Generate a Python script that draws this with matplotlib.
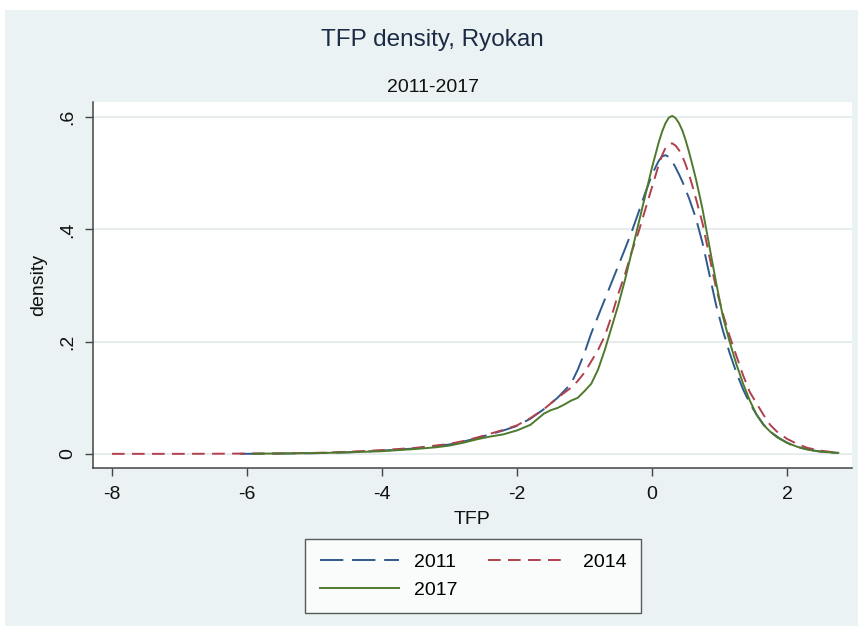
import matplotlib
matplotlib.use("Agg")
import matplotlib.pyplot as plt
from matplotlib.patches import Rectangle

# ---- data ----
x2011 = [-6.1, -5.5, -5.0, -4.5, -4.0, -3.5, -3.0, -2.8, -2.6, -2.4, -2.2, -2.0,
         -1.8, -1.6, -1.4, -1.2, -1.1, -1.0, -0.9, -0.8, -0.7, -0.6, -0.5, -0.4,
         -0.3, -0.2, -0.1, 0.0, 0.05, 0.1, 0.15, 0.2, 0.25, 0.3, 0.35, 0.4, 0.45,
         0.55, 0.65, 0.75, 0.85, 0.95, 1.05, 1.15, 1.25, 1.35, 1.45, 1.55, 1.65,
         1.75, 1.9, 2.05, 2.2, 2.4, 2.6, 2.76]
d2011 = [0.0003, 0.0008, 0.0015, 0.003, 0.006, 0.010, 0.017, 0.022, 0.028, 0.035, 0.042, 0.050,
         0.063, 0.080, 0.100, 0.125, 0.150, 0.180, 0.215, 0.245, 0.275, 0.305, 0.335, 0.365,
         0.396, 0.430, 0.465, 0.497, 0.510, 0.522, 0.530, 0.532, 0.529, 0.521, 0.510, 0.498, 0.485,
         0.455, 0.420, 0.375, 0.320, 0.265, 0.220, 0.180, 0.145, 0.115, 0.090, 0.070, 0.053,
         0.040, 0.027, 0.017, 0.011, 0.006, 0.003, 0.002]

x2014 = [-8.0, -7.0, -6.5, -6.0, -5.5, -5.0, -4.5, -4.0, -3.5, -3.0, -2.8, -2.6,
         -2.4, -2.2, -2.0, -1.8, -1.6, -1.4, -1.2, -1.1, -1.0, -0.9, -0.8, -0.7,
         -0.6, -0.5, -0.4, -0.3, -0.2, -0.1, 0.0, 0.1, 0.15, 0.2, 0.25, 0.3, 0.35,
         0.4, 0.45, 0.5, 0.55, 0.6, 0.65, 0.7, 0.75, 0.85, 0.95, 1.05, 1.15, 1.25,
         1.35, 1.45, 1.55, 1.65, 1.75, 1.85, 2.0, 2.15, 2.3, 2.5, 2.76]
d2014 = [0.0003, 0.0003, 0.0005, 0.0008, 0.001, 0.002, 0.004, 0.007, 0.011, 0.018, 0.023, 0.029,
         0.036, 0.043, 0.051, 0.064, 0.080, 0.100, 0.118, 0.130, 0.145, 0.165, 0.185, 0.210,
         0.245, 0.285, 0.320, 0.360, 0.395, 0.435, 0.475, 0.515, 0.532, 0.545, 0.552, 0.553, 0.549,
         0.541, 0.530, 0.515, 0.497, 0.477, 0.455, 0.433, 0.410, 0.352, 0.295, 0.250, 0.210, 0.175,
         0.140, 0.110, 0.090, 0.070, 0.052, 0.040, 0.027, 0.018, 0.011, 0.006, 0.002]

x2017 = [-5.9, -5.5, -5.0, -4.5, -4.0, -3.5, -3.2, -3.0, -2.8, -2.6, -2.4, -2.2,
         -2.0, -1.8, -1.6, -1.5, -1.4, -1.3, -1.2, -1.1, -1.0, -0.9, -0.8, -0.7,
         -0.6, -0.5, -0.4, -0.3, -0.2, -0.1, 0.0, 0.1, 0.15, 0.2, 0.25, 0.3, 0.35,
         0.4, 0.45, 0.5, 0.55, 0.6, 0.65, 0.7, 0.75, 0.85, 0.95, 1.05, 1.15, 1.25,
         1.35, 1.45, 1.55, 1.65, 1.75, 1.85, 2.0, 2.15, 2.3, 2.5, 2.76]
d2017 = [0.0005, 0.001, 0.0015, 0.003, 0.005, 0.009, 0.012, 0.015, 0.020, 0.026, 0.031, 0.035,
         0.042, 0.052, 0.072, 0.078, 0.082, 0.088, 0.095, 0.100, 0.112, 0.125, 0.150, 0.185,
         0.225, 0.265, 0.310, 0.360, 0.410, 0.460, 0.510, 0.555, 0.574, 0.589, 0.599, 0.602, 0.598,
         0.589, 0.576, 0.558, 0.537, 0.514, 0.490, 0.463, 0.435, 0.370, 0.305, 0.245, 0.200, 0.160,
         0.125, 0.095, 0.070, 0.052, 0.040, 0.030, 0.020, 0.013, 0.008, 0.004, 0.002]

xticks = [-8, -6, -4, -2, 0, 2]
yticks = [0, 0.2, 0.4, 0.6]
yticklabels = ["0", ".2", ".4", ".6"]
series_labels = ["2011", "2014", "2017"]

# ---- style ----
plt.rcParams['font.family'] = ['Liberation Sans', 'DejaVu Sans']
BG = '#EAF2F3'
C2011 = '#2E5A8C'
C2014 = '#B0404E'
C2017 = '#4F7A2E'
AXC = '#444444'

W, H = 861, 632
fig = plt.figure(figsize=(W / 100, H / 100), dpi=100, facecolor='white')
fig.patches.append(Rectangle((5 / W, 1 - 626 / H), (858 - 5) / W, (626 - 10) / H,
                             transform=fig.transFigure, facecolor=BG, edgecolor='none', zorder=-10))

ax = fig.add_axes([93 / W, 1 - 468 / H, (852 - 93) / W, (468 - 102) / H])
ax.set_facecolor('white')

ax.set_xlim(-8.281, 2.963)
ax.set_ylim(-0.0249, 0.6267)

for yv in yticks:
    ax.axhline(yv, color='#E3EAEC', lw=1.2, zorder=0)

l1, = ax.plot(x2011, d2011, color=C2011, lw=1.4, dashes=(12, 4.5), label=series_labels[0])
l2, = ax.plot(x2014, d2014, color=C2014, lw=1.4, dashes=(6.5, 3.8), label=series_labels[1])
l3, = ax.plot(x2017, d2017, color=C2017, lw=1.4, label=series_labels[2])

for s in ['top', 'right']:
    ax.spines[s].set_visible(False)
for s in ['left', 'bottom']:
    ax.spines[s].set_color(AXC)
    ax.spines[s].set_linewidth(1.1)

ax.set_xticks(xticks)
ax.set_xticklabels([str(t) for t in xticks])
ax.set_yticks(yticks)
ax.set_yticklabels(yticklabels, rotation=90, va='center')
ax.tick_params(axis='both', colors=AXC, length=6, width=1.0, labelsize=14, labelcolor='#111111')
ax.tick_params(axis='x', pad=7)
ax.tick_params(axis='y', pad=6)

ax.set_xlabel('TFP', fontsize=14, color='#111111', labelpad=6)
ax.set_ylabel('density', fontsize=14, color='#111111', labelpad=9)

fig.text(432 / W, 1 - 40 / H, 'TFP density, Ryokan', ha='center', va='center',
         fontsize=17.5, color='#1c2b45')
fig.text(433 / W, 1 - 87 / H, '2011-2017', ha='center', va='center',
         fontsize=14, color='#111111')

leg = fig.legend([l1, l3, l2], ['2011', '2017', '2014'], ncol=2,
                 loc='upper center', bbox_to_anchor=(473 / W, 1 - 539 / H),
                 fontsize=14, frameon=True, fancybox=False, handlelength=4.1,
                 handletextpad=0.75, columnspacing=1.6, labelspacing=0.5,
                 borderpad=0.75, borderaxespad=0)
leg.get_frame().set_edgecolor('#333333')
leg.get_frame().set_linewidth(1.0)

fig.savefig('out.png', dpi=100, facecolor='white')
